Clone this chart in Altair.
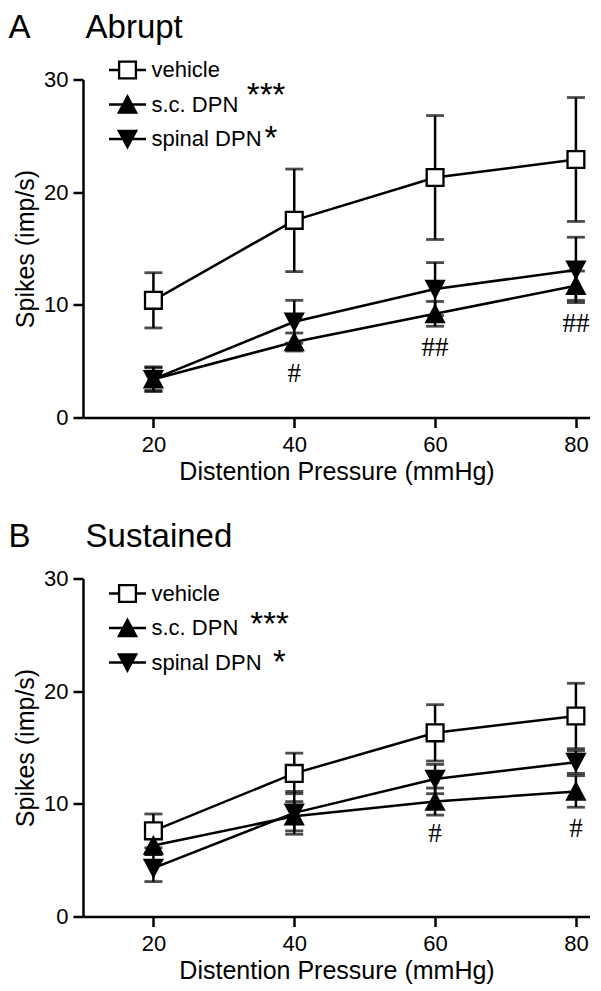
import altair as alt
import pandas as pd

FONT = "Liberation Sans"
SERIF = "Liberation Serif"

pressure = [20, 40, 60, 80]
series_names = ["vehicle", "s.c. DPN", "spinal DPN"]

# Panel A: Abrupt (mean, SEM)
abrupt_vehicle = [10.4, 17.5, 21.3, 22.9]
abrupt_vehicle_sem = [2.45, 4.55, 5.5, 5.5]
abrupt_sc = [3.4, 6.7, 9.2, 11.7]
abrupt_sc_sem = [1.1, 0.8, 1.1, 1.3]
abrupt_spinal = [3.4, 8.5, 11.4, 13.1]
abrupt_spinal_sem = [1.0, 1.9, 2.35, 2.9]

# Panel B: Sustained (mean, SEM)
sustained_vehicle = [7.6, 12.7, 16.3, 17.8]
sustained_vehicle_sem = [1.5, 1.8, 2.5, 2.9]
sustained_sc = [6.3, 8.9, 10.2, 11.1]
sustained_sc_sem = [0.8, 1.3, 1.2, 1.4]
sustained_spinal = [4.3, 9.2, 12.2, 13.7]
sustained_spinal_sem = [1.2, 1.9, 1.3, 1.0]

# '#' annotations
abrupt_hash_x = [40, 60, 80]
abrupt_hash_y = [3.9, 6.2, 8.3]
abrupt_hash_text = ["#", "##", "##"]
sustained_hash_x = [60, 80]
sustained_hash_y = [7.3, 7.8]
sustained_hash_text = ["#", "#"]

# significance stars next to legend labels
star_text = ["***", "*"]
abrupt_star_x = [36.0, 36.7]
abrupt_star_y = [28.55, 24.7]
sustained_star_x = [36.5, 37.9]
sustained_star_y = [25.9, 22.5]

# marker shapes (unit paths)
SQ = "M-0.454,-0.454H0.454V0.454H-0.454Z"
TU = "M0,-0.44L-0.47,0.44H0.47Z"
TD = "M0,0.44L-0.47,-0.44H0.47Z"
SQ_L = "M-1,0H-0.454M0.454,0H1M-0.454,-0.454H0.454V0.454H-0.454Z"
TU_L = "M-1,0H1M0,-0.44L-0.47,0.44H0.47Z"
TD_L = "M-1,0H1M0,0.44L-0.47,-0.44H0.47Z"


def make_df(groups):
    rows = []
    for name, means, sems in groups:
        for p, m, s in zip(pressure, means, sems):
            rows.append({"pressure": p, "series": name, "series_leg": name,
                         "mean": m, "lo": m - s, "hi": m + s})
    return pd.DataFrame(rows)


def panel(df, letter, title, hx, hy, ht, sx, sy, legend_y, title_offset):
    xs = alt.Scale(domain=[10, 82], nice=False, zero=False)
    ys = alt.Scale(domain=[0, 30], nice=False)
    xax = alt.Axis(values=pressure, title="Distention Pressure (mmHg)")
    yax = alt.Axis(values=[0, 10, 20, 30], title="Spikes (imp/s)")
    x = alt.X("pressure:Q", scale=xs, axis=xax)
    base = alt.Chart(df)

    bars = base.mark_rule(color="black", strokeWidth=2.5).encode(
        x=x, y=alt.Y("lo:Q", scale=ys, axis=yax), y2="hi:Q")
    cap_hi = base.mark_tick(color="black", thickness=2.8, size=18,
                            orient="horizontal").encode(x=x, y=alt.Y("hi:Q", scale=ys))
    cap_lo = base.mark_tick(color="black", thickness=2.8, size=18,
                            orient="horizontal").encode(x=x, y=alt.Y("lo:Q", scale=ys))
    lines = base.mark_line(color="black", strokeWidth=2.5).encode(
        x=x, y=alt.Y("mean:Q", scale=ys), detail="series:N")
    pts = base.mark_point(filled=True, stroke="black", strokeWidth=2.3,
                          size=1369, opacity=1).encode(
        x=x, y=alt.Y("mean:Q", scale=ys),
        shape=alt.Shape("series:N", scale=alt.Scale(domain=series_names, range=[SQ, TU, TD]),
                        legend=None),
        fill=alt.Fill("series:N", scale=alt.Scale(domain=series_names,
                                                   range=["white", "black", "black"]),
                      legend=None))
    leg = alt.Legend(title=None, orient="none", legendX=24.5, legendY=legend_y)
    legend_layer = base.transform_filter("false").mark_point(
        filled=True, strokeWidth=2.3, size=1369, opacity=1).encode(
        x=x, y=alt.Y("mean:Q", scale=ys),
        shape=alt.Shape("series_leg:N", scale=alt.Scale(domain=series_names,
                                                        range=[SQ_L, TU_L, TD_L]), legend=leg),
        fill=alt.Fill("series_leg:N", scale=alt.Scale(domain=series_names,
                                                      range=["white", "black", "black"]), legend=leg),
        stroke=alt.Stroke("series_leg:N", scale=alt.Scale(domain=series_names,
                                                          range=["black", "black", "black"]), legend=leg))
    hdf = pd.DataFrame({"pressure": hx, "y": hy, "t": ht})
    hashes = alt.Chart(hdf).mark_text(font=SERIF, fontSize=27, color="black",
                                      baseline="middle", align="center").encode(
        x=x, y=alt.Y("y:Q", scale=ys), text="t:N")
    sdf = pd.DataFrame({"pressure": sx, "y": sy, "t": star_text})
    stars = alt.Chart(sdf).mark_text(font=FONT, fontSize=33, color="black",
                                     baseline="middle", align="center").encode(
        x=x, y=alt.Y("y:Q", scale=ys), text="t:N")

    t = letter + "\u00a0" * 6 + title
    return alt.layer(bars, cap_hi, cap_lo, lines, pts, legend_layer, hashes, stars).resolve_scale(
        shape="independent", fill="independent", stroke="independent"
    ).properties(
        width=507, height=338,
        title=alt.TitleParams(text=t, anchor="start", frame="bounds", font=FONT,
                              fontSize=33, fontWeight="normal", color="black", dx=-5,
                              offset=title_offset))


df_a = make_df([("vehicle", abrupt_vehicle, abrupt_vehicle_sem),
                ("s.c. DPN", abrupt_sc, abrupt_sc_sem),
                ("spinal DPN", abrupt_spinal, abrupt_spinal_sem)])
df_b = make_df([("vehicle", sustained_vehicle, sustained_vehicle_sem),
                ("s.c. DPN", sustained_sc, sustained_sc_sem),
                ("spinal DPN", sustained_spinal, sustained_spinal_sem)])

pa = panel(df_a, "A", "Abrupt", abrupt_hash_x, abrupt_hash_y, abrupt_hash_text,
           abrupt_star_x, abrupt_star_y, -29.5, 4.7)
pb = panel(df_b, "B", "Sustained", sustained_hash_x, sustained_hash_y, sustained_hash_text,
           sustained_star_x, sustained_star_y, -5, 14)

chart = alt.vconcat(pa, pb, spacing=36).configure_view(stroke=None).configure_axis(
    domainColor="black", domainWidth=2.5, tickColor="black", tickWidth=2.5, tickSize=10,
    labelColor="black", titleColor="black", labelFont=FONT, titleFont=FONT,
    labelFontSize=22, titleFontSize=25, titleFontWeight="normal", grid=False
).configure_axisX(labelPadding=7, titlePadding=4).configure_axisY(
    labelPadding=5, titlePadding=5
).configure_legend(padding=0, labelFontSize=22, labelFont=FONT, labelColor="black",
                   symbolStrokeWidth=2.3, rowPadding=1.5, labelOffset=4, symbolSize=1369
).properties(padding={"left": 0, "top": 3.5, "right": 0, "bottom": 0})

chart.save("out.html", embed_options={"renderer": "svg", "actions": False})
